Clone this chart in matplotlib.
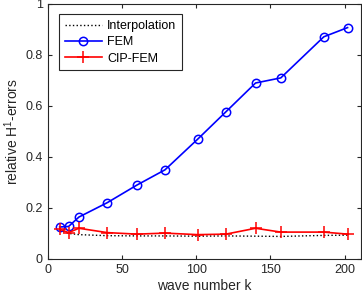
import numpy as np
import matplotlib.pyplot as plt

plt.rcParams['font.family'] = ['Liberation Sans', 'DejaVu Sans']
plt.rcParams['mathtext.fontset'] = 'custom'
plt.rcParams['mathtext.rm'] = 'Liberation Sans'

# data
k = [8, 14, 21, 40, 60, 79, 101, 120, 140, 157, 186, 202]
interp = [0.112, 0.100, 0.095, 0.091, 0.090, 0.090, 0.089, 0.090, 0.089, 0.088, 0.092, 0.093]
fem = [0.125, 0.127, 0.164, 0.220, 0.289, 0.349, 0.469, 0.576, 0.689, 0.709, 0.870, 0.906]
cip = [0.116, 0.103, 0.120, 0.103, 0.097, 0.101, 0.095, 0.097, 0.120, 0.105, 0.105, 0.097]

fig = plt.figure(figsize=(3.62, 3.0), dpi=100)
ax = fig.add_axes([0.132, 0.137, 0.865, 0.851])

ax.plot(k, interp, ':', color='black', lw=1.0, label='Interpolation')
ax.plot(k, fem, '-o', color='blue', lw=1.2, markersize=6, markerfacecolor='none',
        markeredgewidth=1.1, label='FEM')
ax.plot(k, cip, '-+', color='red', lw=1.2, markersize=8, markeredgewidth=1.1,
        label='CIP-FEM')

ax.set_xlim(0, 211)
ax.set_ylim(0, 1)
ax.set_xticks([0, 50, 100, 150, 200])
ax.set_yticks([0, 0.2, 0.4, 0.6, 0.8, 1])
ax.set_yticklabels(['0', '0.2', '0.4', '0.6', '0.8', '1'])
ax.tick_params(direction='in', top=True, right=True, labelsize=9, length=3,
               color='#262626', labelcolor='#262626')
for s in ax.spines.values():
    s.set_color('#262626')
    s.set_linewidth(0.8)

ax.set_xlabel('wave number k', fontsize=10, color='#262626', labelpad=2)
ax.set_ylabel('relative H$^1$-errors', fontsize=10, color='#262626', labelpad=3)

leg = ax.legend(loc='upper left', fontsize=9, fancybox=False, edgecolor='#262626',
                framealpha=1, handlelength=3.0, borderpad=0.45, labelspacing=0.35,
                handletextpad=0.4, borderaxespad=0, bbox_to_anchor=(0.036, 0.958))
leg.get_frame().set_linewidth(0.8)

fig.savefig('out.png', dpi=100)
